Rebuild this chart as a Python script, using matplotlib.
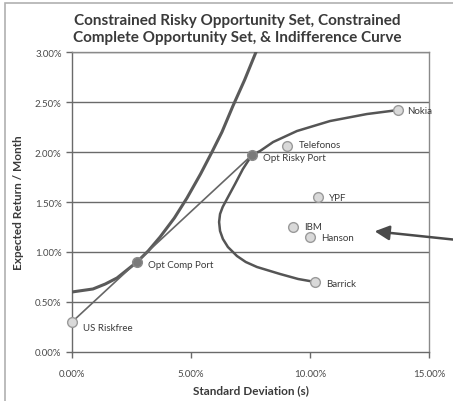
import matplotlib
matplotlib.use('Agg')
import matplotlib.pyplot as plt
from matplotlib.patches import Rectangle

plt.rcParams['font.family'] = ['Lato', 'DejaVu Sans']

#### data (percent per month)
stock_names = ['Nokia', 'Telefonos', 'YPF', 'IBM', 'Hanson', 'Barrick']
stock_sd = [13.70, 9.03, 10.34, 9.29, 10.00, 10.21]
stock_ret = [2.42, 2.06, 1.55, 1.25, 1.15, 0.70]

port_names = ['Opt Risky Port', 'Opt Comp Port']
port_sd = [7.56, 2.73]
port_ret = [1.97, 0.90]

rf_name = 'US Riskfree'
rf_sd = 0.0
rf_ret = 0.30

# constrained risky opportunity set (Nokia -> Barrick)
frontier_sd = [13.70, 12.39, 10.84, 9.45, 8.45, 7.90, 7.56, 7.18, 6.85, 6.51, 6.33,
               6.22, 6.18, 6.22, 6.34, 6.55, 6.93, 7.30, 7.77, 8.74, 9.50, 10.21]
frontier_ret = [2.42, 2.38, 2.31, 2.21, 2.10, 2.01, 1.97, 1.83, 1.68, 1.53, 1.45,
                1.38, 1.30, 1.21, 1.13, 1.05, 0.96, 0.90, 0.85, 0.78, 0.73, 0.70]

# indifference curve
indiff_sd = [0.0, 0.88, 1.40, 1.89, 2.73, 3.20, 3.70, 4.30, 4.83, 5.40, 5.88,
             6.30, 6.76, 7.25, 7.73]
indiff_ret = [0.60, 0.63, 0.68, 0.74, 0.90, 1.01, 1.15, 1.34, 1.54, 1.78, 2.00,
              2.20, 2.46, 2.72, 3.00]

txt = '#3a3a3a'
line_col = '#555555'

fig = plt.figure(figsize=(4.53, 4.02), dpi=100)
ax = fig.add_axes([0.159, 0.122, 0.788, 0.746])

#### grid lines
for y in [0.5, 1.0, 1.5, 2.0, 2.5, 3.0]:
    ax.axhline(y, color='#6a6a6a', lw=1.0, zorder=1)

#### lines
ax.plot(frontier_sd, frontier_ret, color=line_col, lw=1.8, zorder=3,
        solid_joinstyle='round')
ax.plot(indiff_sd, indiff_ret, color='#5a5a5a', lw=2.2, zorder=3,
        solid_joinstyle='round')
ax.plot([rf_sd, port_sd[0]], [rf_ret, port_ret[0]], color='#666666', lw=1.2, zorder=3)

#### points
ax.plot(stock_sd, stock_ret, 'o', ms=7, mfc='#d9d9d9', mec='#9a9a9a', mew=1, zorder=5)
ax.plot([rf_sd], [rf_ret], 'o', ms=7, mfc='#d9d9d9', mec='#9a9a9a', mew=1, zorder=5,
        clip_on=False)
ax.plot(port_sd, port_ret, 'o', ms=7, mfc='#7a7a7a', mec='#8a8a8a', mew=1, zorder=5)

lab = dict(fontsize=7, color=txt, va='center')
offs = {'Nokia': (0.4, 0.0), 'Telefonos': (0.5, 0.02), 'YPF': (0.45, 0.0),
        'IBM': (0.45, 0.01), 'Hanson': (0.45, -0.01), 'Barrick': (0.45, -0.02)}
for n, s, r in zip(stock_names, stock_sd, stock_ret):
    dx, dy = offs[n]
    ax.text(s + dx, r + dy, n, **lab)
ax.text(port_sd[0] + 0.45, port_ret[0] - 0.02, port_names[0], **lab)
ax.text(port_sd[1] + 0.45, port_ret[1] - 0.03, port_names[1], **lab)
ax.text(rf_sd + 0.45, rf_ret - 0.06, rf_name, **lab)

#### arrow coming in from the right
ax.annotate('', xy=(12.6, 1.21), xytext=(16.2, 1.12), annotation_clip=False,
            arrowprops=dict(arrowstyle='-|>', color='#4a4a4a', lw=1.8,
                            mutation_scale=22))

#### axes
ax.set_xlim(0, 15)
ax.set_ylim(0, 3)
ax.set_xticks([0, 5, 10, 15])
ax.set_xticklabels(['0.00%', '5.00%', '10.00%', '15.00%'])
ax.set_yticks([0, 0.5, 1.0, 1.5, 2.0, 2.5, 3.0])
ax.set_yticklabels(['0.00%', '0.50%', '1.00%', '1.50%', '2.00%', '2.50%', '3.00%'])
ax.tick_params(axis='both', labelsize=7, colors='#6a6a6a', labelcolor='#4a4a4a',
               length=4, width=1)
ax.tick_params(axis='x', pad=8)
for sp in ax.spines.values():
    sp.set_color('#8a8a8a')
    sp.set_linewidth(1)
ax.spines['left'].set_color('#6a6a6a')
ax.spines['bottom'].set_color('#6a6a6a')

ax.set_xlabel('Standard Deviation (s)', fontsize=8.5, fontweight='bold', color=txt,
              labelpad=5)
ax.set_ylabel('Expected Return / Month', fontsize=8.5, fontweight='bold', color=txt,
              labelpad=8)
fig.suptitle('Constrained Risky Opportunity Set, Constrained\n'
             'Complete Opportunity Set, & Indifference Curve',
             x=0.523, y=0.965, fontsize=11, fontweight='bold', color=txt,
             linespacing=1.3)

#### outer chart border
fig.patches.append(Rectangle((0.012, -0.01), 1.0, 0.999, transform=fig.transFigure,
                             fill=False, ec='#b0b0b0', lw=1.2))

fig.savefig('out.png', dpi=100)
plt.close()
